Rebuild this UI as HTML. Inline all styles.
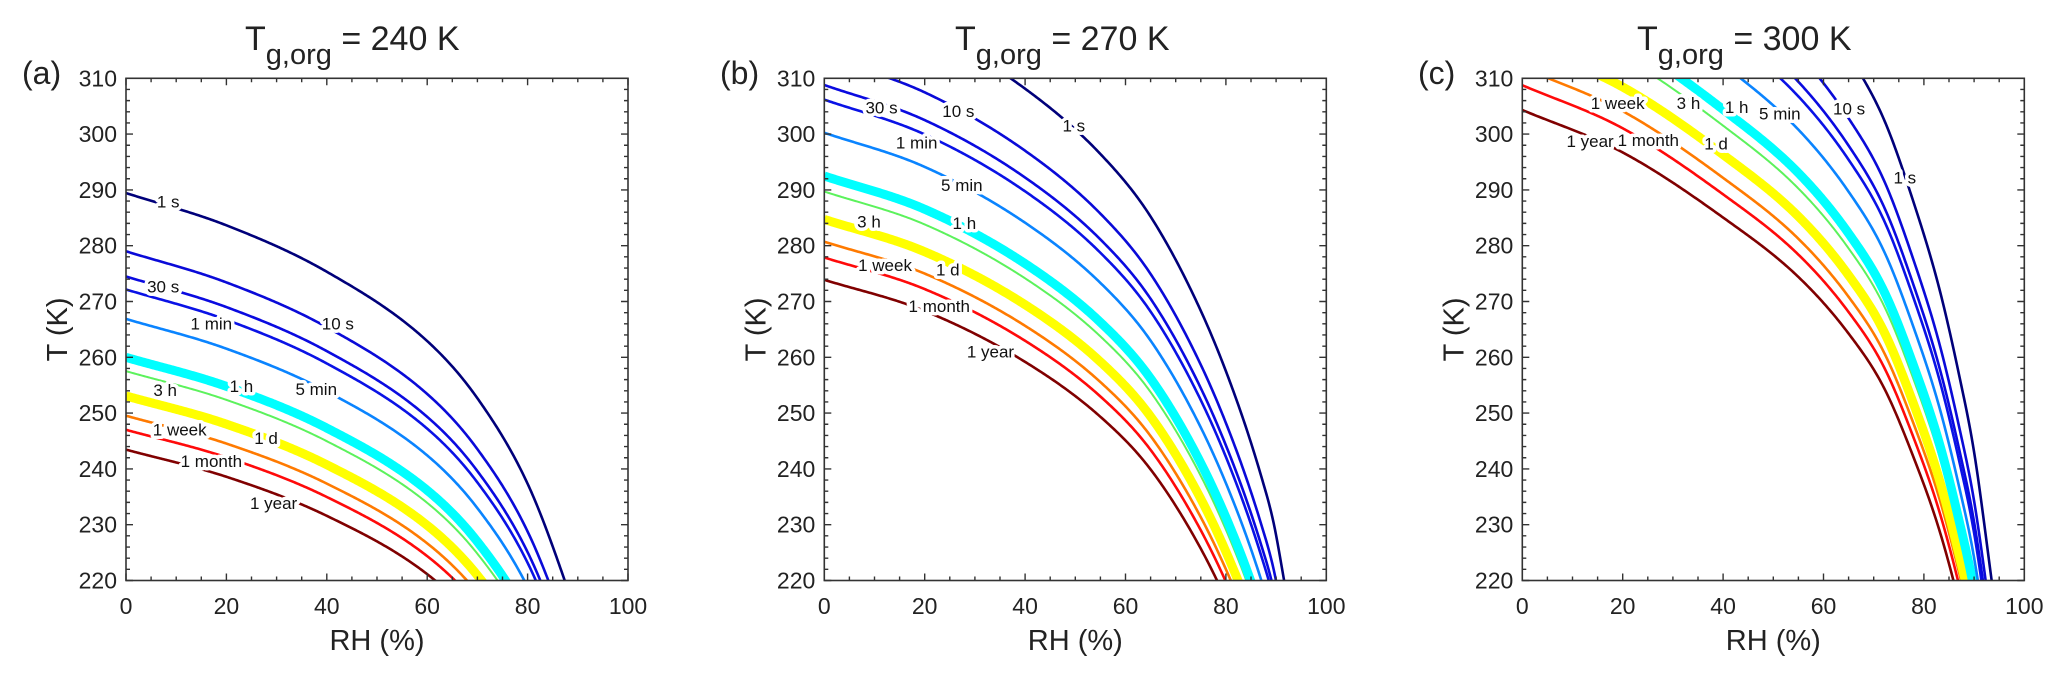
<!DOCTYPE html>
<html><head><meta charset="utf-8"><style>
html,body{margin:0;padding:0;background:#fff;}
svg{display:block;font-family:"Liberation Sans",Arial,sans-serif;}
</style></head><body>
<svg id="fig" width="2067" height="682" viewBox="0 0 2067 682" xmlns="http://www.w3.org/2000/svg"></svg>
<script>
// ---- data ----
const panelTitles = ["240 K", "270 K", "300 K"];
const panelLetters = ["(a)", "(b)", "(c)"];
const timescales = ["1 s","10 s","30 s","1 min","5 min","1 h","3 h","1 d","1 week","1 month","1 year"];
const tempRatios = [1.206,1.1625,1.1437,1.134,1.112,1.0833,1.073,1.0545,1.0397,1.0292,1.0144];
const tgRH_a = [0,20,40,60,70,80,87.4,92];
const tgVal_a = [240,235.2,228.3,218,209.5,196.8,182.4,171.5];
const tgRH_b = [0,20,40,55,65,75,82,87,89.5,91.6,94];
const tgVal_b = [270,264.5,255.5,245.8,236.5,222.5,209.5,198,191,182.4,172];
const tgRH_c = [0,20,40,55,65,72,78,83,87,90,93.5,96];
const tgVal_c = [300,292.5,281,270.5,260.5,251,238.5,226,213,201.5,182.4,168];
const labelRH_a = [8.4,42.2,7.4,17.0,37.9,23.0,7.8,27.9,10.7,17.0,29.4];
const labelT_a  = [287.9,266.1,272.7,266.1,254.3,254.9,254.1,245.5,247.1,241.4,233.9];
const labelRH_b = [49.7,26.7,11.4,18.4,27.4,27.9,8.9,24.6,12.1,22.9,33.1];
const labelT_b  = [301.5,304.1,304.8,298.5,290.9,284.1,284.3,275.7,276.5,269.2,261.0];
const labelRH_c = [76.2,65.1,null,null,51.3,42.7,33.1,38.6,19.0,25.1,13.5];
const labelT_c  = [292.2,304.6,null,null,303.7,304.9,305.6,298.3,305.6,298.9,298.8];
const xTicks = [0,20,40,60,80,100];
const yTicks = [220,230,240,250,260,270,280,290,300,310];

// ---- styles ----
const lineColors = ["#00007a","#0a0ad8","#0a0ae0","#0a12e6","#0a84ff","#00ffff","#5cf25c","#ffff00","#ff7a00","#ff0a0a","#800000"];
const lineWidths = [2.6,2.6,2.6,2.6,2.6,9,2,9,2.6,2.6,2.6];
const panelX0 = [126,824.3,1522.3];
const PW = 502, PY0 = 78.3, PH = 502.2;
const titleX = [245,955,1637];
const letterX = [22,720,1418];

const NS = "http://www.w3.org/2000/svg";
const svg = document.getElementById("fig");
function mk(tag, attrs, parent){const e=document.createElementNS(NS,tag);for(const k in attrs)e.setAttribute(k,attrs[k]);(parent||svg).appendChild(e);return e;}

function monotone(xs, ys){
  const n=xs.length, d=[], m=new Array(n);
  for(let i=0;i<n-1;i++) d.push((ys[i+1]-ys[i])/(xs[i+1]-xs[i]));
  m[0]=d[0]; m[n-1]=d[n-2];
  for(let i=1;i<n-1;i++) m[i]=(d[i-1]*d[i]<=0)?0:(d[i-1]+d[i])/2;
  for(let i=0;i<n-1;i++){ if(d[i]===0){m[i]=m[i+1]=0;continue;}
    const a=m[i]/d[i], b=m[i+1]/d[i], s=a*a+b*b; if(s>9){const t=3/Math.sqrt(s);m[i]=t*a*d[i];m[i+1]=t*b*d[i];}}
  return function(x){let i=0;while(i<n-2&&x>xs[i+1])i++;
    const h=xs[i+1]-xs[i], t=(x-xs[i])/h, t2=t*t, t3=t2*t;
    return (2*t3-3*t2+1)*ys[i]+(t3-2*t2+t)*h*m[i]+(-2*t3+3*t2)*ys[i+1]+(t3-t2)*h*m[i+1];};
}

const tgRHs=[tgRH_a,tgRH_b,tgRH_c], tgVals=[tgVal_a,tgVal_b,tgVal_c];
const labRH=[labelRH_a,labelRH_b,labelRH_c], labT=[labelT_a,labelT_b,labelT_c];
const panelNames=["a","b","c"];

for(let p=0;p<3;p++){
  const x0=panelX0[p];
  const xs=v=>x0+v/100*PW;
  const ys=v=>PY0+(310-v)/90*PH;
  const g=mk("g",{});
  
  
  const cp=mk("clipPath",{id:"clip"+p},g);
  mk("rect",{x:x0,y:PY0,width:PW,height:PH},cp);
  const curves=mk("g",{"clip-path":"url(#clip"+p+")"},g);
  
  
  const f=monotone(tgRHs[p],tgVals[p]);
  const maxRH=tgRHs[p][tgRHs[p].length-1];
  for(let c=timescales.length-1;c>=0;c--){
    let dstr="";
    for(let r=0;r<=maxRH+1e-9;r+=0.25){
      const T=tempRatios[c]*f(r);
      dstr+=(dstr?"L":"M")+xs(r).toFixed(2)+","+ys(T).toFixed(2);
      if(T<215)break;
    }
    const path=mk("path",{d:dstr,fill:"none",stroke:lineColors[c],"stroke-width":lineWidths[c],"stroke-linejoin":"round"},curves);
    
    
  }
  for(let c=0;c<timescales.length;c++){
    if(labRH[p][c]===null)continue;
    const t=mk("text",{x:xs(labRH[p][c]),y:ys(labT[p][c])+6,"font-size":17,"text-anchor":"middle",fill:"#111",stroke:"#fff","stroke-width":7,"paint-order":"stroke","stroke-linejoin":"round"},g);
    t.textContent=timescales[c];
    
    
  }
  const fr=mk("rect",{x:x0,y:PY0,width:PW,height:PH,fill:"none",stroke:"#333","stroke-width":1.6},g);
  
  
  let td="";
  for(let v=0;v<=100;v+=5){const L=(v%20===0)?7:4;const X=xs(v);
    td+=`M${X},${PY0+PH}v${-L}M${X},${PY0}v${L}`;}
  for(let v=220;v<=310;v+=2){const L=(v%10===0)?7:4;const Y=ys(v);
    td+=`M${x0},${Y}h${L}M${x0+PW},${Y}h${-L}`;}
  const tk=mk("path",{d:td,stroke:"#333","stroke-width":1.4,fill:"none"},g);
  
  
  for(const v of xTicks){
    const t=mk("text",{x:xs(v),y:614,"font-size":23,"text-anchor":"middle",fill:"#222"},g);
    t.textContent=v;
    
    
  }
  for(const v of yTicks){
    const t=mk("text",{x:x0-9,y:ys(v)+8,"font-size":23,"text-anchor":"end",fill:"#222"},g);
    t.textContent=v;
    
    
  }
  const xt=mk("text",{x:x0+PW/2,y:650,"font-size":29,"text-anchor":"middle",fill:"#222"},g);
  xt.textContent="RH (%)";
  
  
  const yt=mk("text",{x:0,y:0,"font-size":29,"text-anchor":"middle",fill:"#222",transform:`translate(${x0-59},${PY0+PH/2}) rotate(-90)`},g);
  yt.textContent="T (K)";
  
  
  const lt=mk("text",{x:letterX[p],y:84,"font-size":32,fill:"#222"},g);
  lt.textContent=panelLetters[p];
  
  
  const tt=mk("text",{x:titleX[p],y:50,"font-size":34,fill:"#222"},g);
  
  
  const s1=mk("tspan",{},tt); s1.textContent="T";
  const s2=mk("tspan",{dy:14,"font-size":29},tt); s2.textContent="g,org";
  const s3=mk("tspan",{dy:-14},tt); s3.textContent=" = "+panelTitles[p];
}
</script>
</body></html>
